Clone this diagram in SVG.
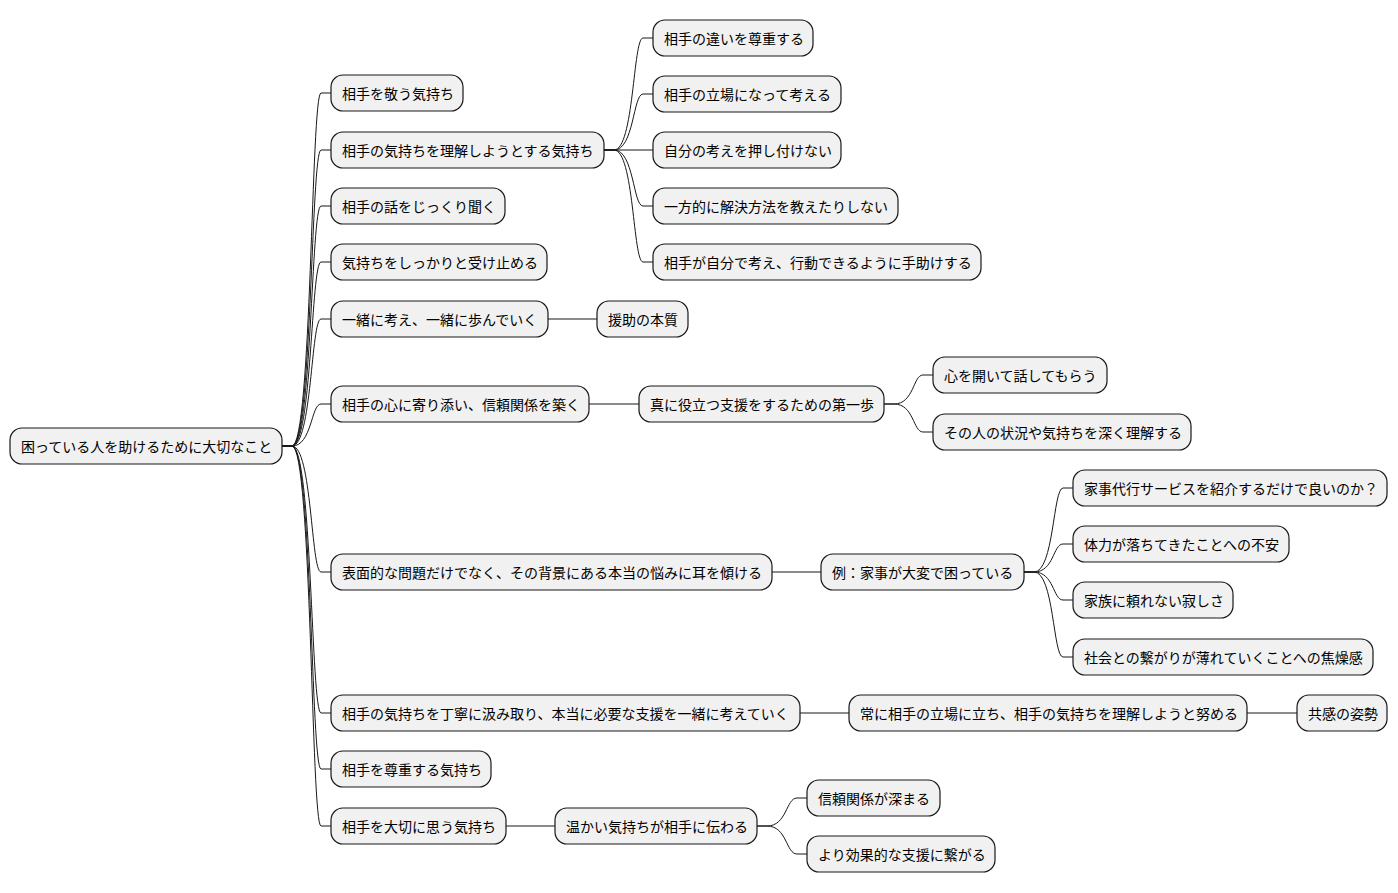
<svg xmlns="http://www.w3.org/2000/svg" width="1398" height="893" viewBox="0 0 1398 893">
<style>
rect{fill:#F1F1F1;stroke:#181818;stroke-width:1.2}
text{font-family:"Noto Sans CJK JP","Noto Sans",sans-serif;font-size:14px;fill:#000;dominant-baseline:central}
path{fill:none;stroke:#181818;stroke-width:1}
</style>
<rect width="1398" height="893" style="fill:#fff;stroke:none"/>
<g id="connectors">
<path d="M282 446 L292 446 C312 446 311 93 321 93 L331 93"/>
<path d="M282 446 L292 446 C312 446 311 150 321 150 L331 150"/>
<path d="M282 446 L292 446 C312 446 311 206 321 206 L331 206"/>
<path d="M282 446 L292 446 C312 446 311 262 321 262 L331 262"/>
<path d="M282 446 L292 446 C312 446 311 319 321 319 L331 319"/>
<path d="M282 446 L292 446 C312 446 311 404 321 404 L331 404"/>
<path d="M282 446 L292 446 C312 446 311 572 321 572 L331 572"/>
<path d="M282 446 L292 446 C312 446 311 713 321 713 L331 713"/>
<path d="M282 446 L292 446 C312 446 311 769 321 769 L331 769"/>
<path d="M282 446 L292 446 C312 446 311 826 321 826 L331 826"/>
<path d="M604 150 L614 150 C634 150 633 38 643 38 L653 38"/>
<path d="M604 150 L614 150 C634 150 633 94 643 94 L653 94"/>
<path d="M604 150 L653 150"/>
<path d="M604 150 L614 150 C634 150 633 206 643 206 L653 206"/>
<path d="M604 150 L614 150 C634 150 633 262 643 262 L653 262"/>
<path d="M548 319 L597 319"/>
<path d="M589 404 L639 404"/>
<path d="M884 404 L894 404 C914 404 913 375 923 375 L933 375"/>
<path d="M884 404 L894 404 C914 404 913 432 923 432 L933 432"/>
<path d="M772 572 L821 572"/>
<path d="M1024 572 L1034 572 C1054 572 1053 488 1063 488 L1073 488"/>
<path d="M1024 572 L1034 572 C1054 572 1053 544 1063 544 L1073 544"/>
<path d="M1024 572 L1034 572 C1054 572 1053 600 1063 600 L1073 600"/>
<path d="M1024 572 L1034 572 C1054 572 1053 657 1063 657 L1073 657"/>
<path d="M800 713 L849 713"/>
<path d="M1247 713 L1297 713"/>
<path d="M506 826 L555 826"/>
<path d="M757 826 L767 826 C787 826 786 798 797 798 L807 798"/>
<path d="M757 826 L767 826 C787 826 786 854 797 854 L807 854"/>
</g>
<g id="root"><rect x="10" y="428" width="272" height="36" rx="12"/><text x="21" y="446">困っている人を助けるために大切なこと</text></g>
<g id="n1"><rect x="331" y="75" width="132" height="36" rx="12"/><text x="342" y="93">相手を敬う気持ち</text></g>
<g id="n2"><rect x="331" y="132" width="273" height="36" rx="12"/><text x="342" y="150">相手の気持ちを理解しようとする気持ち</text></g>
<g id="n3"><rect x="331" y="188" width="174" height="36" rx="12"/><text x="342" y="206">相手の話をじっくり聞く</text></g>
<g id="n4"><rect x="331" y="244" width="216" height="36" rx="12"/><text x="342" y="262">気持ちをしっかりと受け止める</text></g>
<g id="n5"><rect x="331" y="301" width="217" height="36" rx="12"/><text x="342" y="319">一緒に考え、一緒に歩んでいく</text></g>
<g id="n6"><rect x="331" y="386" width="258" height="36" rx="12"/><text x="342" y="404">相手の心に寄り添い、信頼関係を築く</text></g>
<g id="n7"><rect x="331" y="554" width="441" height="36" rx="12"/><text x="342" y="572">表面的な問題だけでなく、その背景にある本当の悩みに耳を傾ける</text></g>
<g id="n8"><rect x="331" y="695" width="469" height="36" rx="12"/><text x="342" y="713">相手の気持ちを丁寧に汲み取り、本当に必要な支援を一緒に考えていく</text></g>
<g id="n9"><rect x="331" y="751" width="160" height="36" rx="12"/><text x="342" y="769">相手を尊重する気持ち</text></g>
<g id="n10"><rect x="331" y="808" width="175" height="36" rx="12"/><text x="342" y="826">相手を大切に思う気持ち</text></g>
<g id="n2a"><rect x="653" y="20" width="160" height="36" rx="12"/><text x="664" y="38">相手の違いを尊重する</text></g>
<g id="n2b"><rect x="653" y="76" width="188" height="36" rx="12"/><text x="664" y="94">相手の立場になって考える</text></g>
<g id="n2c"><rect x="653" y="132" width="188" height="36" rx="12"/><text x="664" y="150">自分の考えを押し付けない</text></g>
<g id="n2d"><rect x="653" y="188" width="245" height="36" rx="12"/><text x="664" y="206">一方的に解決方法を教えたりしない</text></g>
<g id="n2e"><rect x="653" y="244" width="328" height="36" rx="12"/><text x="664" y="262">相手が自分で考え、行動できるように手助けする</text></g>
<g id="n5a"><rect x="597" y="301" width="91" height="36" rx="12"/><text x="608" y="319">援助の本質</text></g>
<g id="n6a"><rect x="639" y="386" width="245" height="36" rx="12"/><text x="650" y="404">真に役立つ支援をするための第一歩</text></g>
<g id="n6a1"><rect x="933" y="357" width="174" height="36" rx="12"/><text x="944" y="375">心を開いて話してもらう</text></g>
<g id="n6a2"><rect x="933" y="414" width="258" height="36" rx="12"/><text x="944" y="432">その人の状況や気持ちを深く理解する</text></g>
<g id="n7a"><rect x="821" y="554" width="203" height="36" rx="12"/><text x="832" y="572">例：家事が大変で困っている</text></g>
<g id="n7a1"><rect x="1073" y="470" width="314" height="36" rx="12"/><text x="1084" y="488">家事代行サービスを紹介するだけで良いのか？</text></g>
<g id="n7a2"><rect x="1073" y="526" width="216" height="36" rx="12"/><text x="1084" y="544">体力が落ちてきたことへの不安</text></g>
<g id="n7a3"><rect x="1073" y="582" width="160" height="36" rx="12"/><text x="1084" y="600">家族に頼れない寂しさ</text></g>
<g id="n7a4"><rect x="1073" y="639" width="300" height="36" rx="12"/><text x="1084" y="657">社会との繋がりが薄れていくことへの焦燥感</text></g>
<g id="n8a"><rect x="849" y="695" width="398" height="36" rx="12"/><text x="860" y="713">常に相手の立場に立ち、相手の気持ちを理解しようと努める</text></g>
<g id="n8a1"><rect x="1297" y="695" width="90" height="36" rx="12"/><text x="1308" y="713">共感の姿勢</text></g>
<g id="n10a"><rect x="555" y="808" width="202" height="36" rx="12"/><text x="566" y="826">温かい気持ちが相手に伝わる</text></g>
<g id="n10a1"><rect x="807" y="780" width="133" height="36" rx="12"/><text x="818" y="798">信頼関係が深まる</text></g>
<g id="n10a2"><rect x="807" y="836" width="188" height="36" rx="12"/><text x="818" y="854">より効果的な支援に繋がる</text></g>
</svg>
